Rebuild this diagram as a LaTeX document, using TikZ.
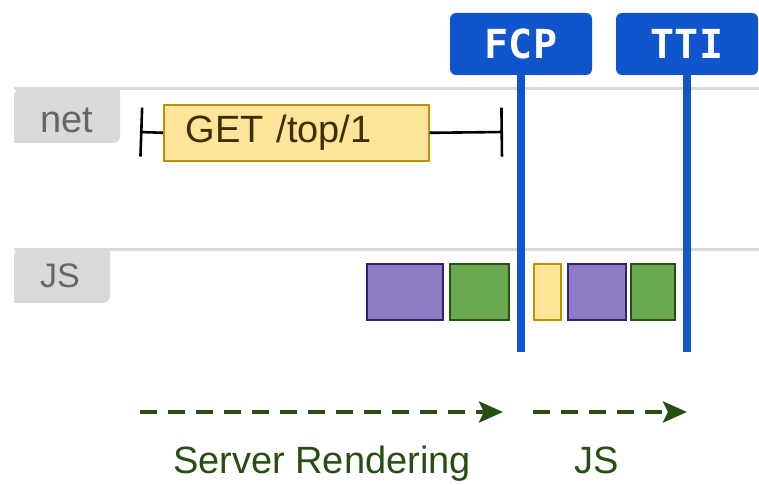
\documentclass[tikz,border=0pt]{standalone}
\usepackage{fontspec}
\setmainfont{Liberation Sans}
\newfontfamily\flagfont{DejaVu Sans Mono}
\usetikzlibrary{arrows.meta}
\definecolor{rowgray}{HTML}{DADADA}
\definecolor{labgray}{HTML}{D9D9D9}
\definecolor{labtext}{HTML}{666666}
\definecolor{ylfill}{HTML}{FFE599}
\definecolor{ylline}{HTML}{BF9000}
\definecolor{ytext}{HTML}{3D3000}
\definecolor{pufill}{HTML}{8E7CC3}
\definecolor{puline}{HTML}{351C75}
\definecolor{grfill}{HTML}{6AA84F}
\definecolor{grline}{HTML}{274E13}
\definecolor{flagblue}{HTML}{1155CC}
\definecolor{arrgreen}{HTML}{274E13}
\begin{document}
\begin{tikzpicture}[x=1pt,y=-1pt,
  rowline/.style={draw=rowgray,line width=3pt},
  rowlabel/.style={fill=labgray},
  labeltext/.style={text=labtext,font=\fontsize{38}{40}\selectfont,inner sep=0pt},
  taskbox/.style={draw,line width=1.6pt,inner sep=0pt,anchor=north west},
  purplebox/.style={taskbox,fill=pufill,draw=puline},
  greenbox/.style={taskbox,fill=grfill,draw=grline},
  yellowbox/.style={taskbox,fill=ylfill,draw=ylline},
  flag/.style={fill=flagblue,rounded corners=6pt,minimum width=142pt,minimum height=62pt,inner sep=0pt,
    text=white,font=\flagfont\bfseries\fontsize{40}{42}\selectfont},
  flagline/.style={draw=flagblue,line width=8pt},
  whisker/.style={draw=black,line width=2.6pt},
  phase/.style={draw=arrgreen,line width=4.5pt,dash pattern=on 17pt off 11pt,
    -{Stealth[length=24pt,width=21pt,inset=5pt]}},
  phasetext/.style={text=arrgreen,font=\fontsize{38}{40}\selectfont,inner sep=0pt,anchor=base}
]
\useasboundingbox (0,0) rectangle (759,484);
% row lines
\draw[rowline] (14,89) -- (759,89);
\draw[rowline] (14,249) -- (759,249);
% row labels
\fill[rowlabel,rounded corners=7pt] (14,89) rectangle (120,143);
\fill[rowlabel] (100,89) rectangle (120,110);
\fill[rowlabel] (14,123) rectangle (34,143);
\fill[rowlabel,rounded corners=7pt] (14,249) rectangle (110,303);
\fill[rowlabel] (90,249) rectangle (110,270);
\fill[rowlabel] (14,283) rectangle (34,303);
\node[labeltext,anchor=base west] (netlab) at (40,132) {net};
\node[labeltext,anchor=base west,font=\fontsize{34}{36}\selectfont] (jslab) at (40,287) {JS};
% network request
\node[yellowbox,minimum height=56pt,text width=221pt,inner xsep=22pt,align=left,
  text=ytext,font=\fontsize{38}{40}\selectfont] (get) at (163,104) {GET /top/1};
\coordinate (wl) at (140,132);
\coordinate (wr) at (503,132);
\draw[whisker,{Bar[width=49pt]}-] (wl) -- (get.west);
\draw[whisker,-{Bar[width=49pt]}] (get.east) -- (wr);
% JS tasks
\node[purplebox,minimum width=76pt,minimum height=56pt] (p1) at (366,263) {};
\node[greenbox,minimum width=59pt,minimum height=56pt] (g1) at (449,263) {};
\node[yellowbox,minimum width=27pt,minimum height=56pt] (y1) at (533,263) {};
\node[purplebox,minimum width=58pt,minimum height=56pt] (p2) at (567,263) {};
\node[greenbox,minimum width=44pt,minimum height=56pt] (g2) at (630,263) {};
% flags
\node[flag] (fcp) at (521,44) {FCP};
\node[flag] (tti) at (687,44) {TTI};
\coordinate (fcpend) at (521,352);
\coordinate (ttiend) at (687,352);
\draw[flagline] (fcp.south) -- (fcpend);
\draw[flagline] (tti.south) -- (ttiend);
% phases
\coordinate (a1s) at (140,412);
\coordinate (a1e) at (503,412);
\coordinate (a2s) at (533,412);
\coordinate (a2e) at (687,412);
\draw[phase] (a1s) -- (a1e);
\draw[phase] (a2s) -- (a2e);
\node[phasetext] (srtext) at (322,473) {Server Rendering};
\node[phasetext] (jstext) at (597,473) {JS};
\end{tikzpicture}
\end{document}
